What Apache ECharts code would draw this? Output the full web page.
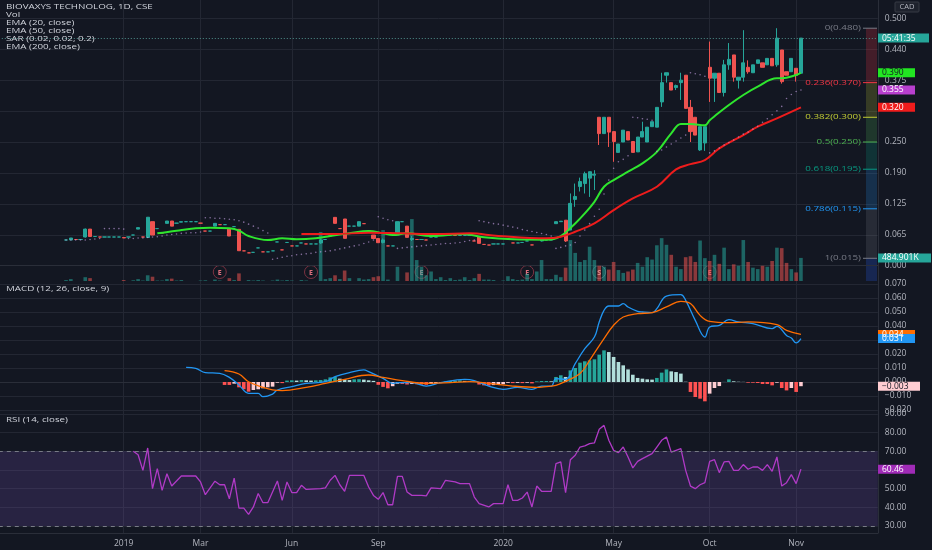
<!DOCTYPE html>
<html><head><meta charset="utf-8">
<script src="https://cdn.jsdelivr.net/npm/echarts/dist/echarts.min.js"></script>
<style>html,body{margin:0;padding:0;background:#131722;}#c{width:932px;height:550px;}</style>
</head><body><div id="c"></div>
<script>
// ---------- DATA ----------
const PAD = 14, SLOTS = 184;            // empty bar slots left of the first bar / total slots on the time axis
const tickLabels = [[12,'2019'],[28,'Mar'],[47,'Jun'],[65,'Sep'],[91,'2020'],[114,'May'],[134,'Oct'],[152,'Nov']];
// [open, close, low, high]
const candles = [
[.052,.052,.052,.052],[.052,.056,.052,.056],[.053,.053,.053,.053],[.053,.053,.053,.053],[.058,.074,.057,.075],
[.074,.059,.059,.074],[.059,.059,.059,.059],[.058,.058,.058,.058],[.058,.058,.058,.058],[.058,.058,.058,.058],
[.058,.058,.058,.058],[.058,.058,.058,.058],[.057,.056,.056,.057],[.058,.058,.058,.058],[.062,.062,.062,.062],
[.074,.077,.074,.077],[.058,.058,.058,.058],[.057,.098,.057,.098],[.089,.062,.062,.089],[.075,.075,.075,.075],
[.066,.066,.066,.066],[.0856,.0903,.0856,.0903],[.0903,.080,.080,.0903],[.086,.086,.086,.086],[.088,.089,.088,.089],
[.089,.089,.089,.089],[.089,.089,.089,.089],[.089,.089,.089,.089],[.086,.086,.086,.086],[.070,.070,.070,.070],
[.070,.070,.070,.070],[.080,.0856,.080,.0856],[.083,.083,.083,.083],[.083,.083,.083,.083],[.074,.060,.060,.074],
[.079,.079,.079,.079],[.0735,.0303,.0303,.0735],[.030,.030,.030,.030],[.026,.026,.026,.026],[.027,.027,.027,.027],
[.036,.036,.036,.036],[.028,.028,.028,.028],[.028,.028,.028,.028],[.030,.030,.030,.030],[.048,.048,.048,.048],
[.032,.032,.032,.032],[.047,.047,.047,.047],[.040,.040,.040,.040],[.040,.040,.040,.040],[.046,.046,.046,.046],
[.044,.044,.044,.044],[.044,.044,.044,.044],[.044,.044,.044,.044],[.046,.052,.044,.055],[.053,.053,.053,.053],
[.060,.060,.060,.060],[.0977,.0856,.0856,.0977],[.075,.075,.075,.075],[.0944,.0553,.0553,.0944],[.080,.080,.080,.080],
[.080,.080,.080,.080],[.080,.089,.080,.089],[.085,.085,.085,.085],[.070,.070,.070,.070],[.062,.055,.055,.062],
[.055,.0465,.0465,.055],[.047,.052,.045,.055],[.040,.040,.040,.040],[.040,.040,.040,.040],[.062,.089,.062,.089],
[.089,.089,.089,.089],[.080,.0573,.0573,.080],[.053,.055,.050,.060],[.053,.053,.053,.053],[.053,.053,.053,.053],
[.052,.052,.052,.052],[.058,.058,.058,.058],[.058,.058,.058,.058],[.062,.062,.062,.062],[.062,.062,.062,.062],
[.062,.062,.062,.062],[.061,.061,.061,.061],[.061,.061,.061,.061],[.061,.061,.061,.061],[.061,.061,.061,.061],
[.050,.050,.050,.050],[.0587,.0452,.0452,.0587],[.043,.043,.043,.043],[.0418,.0418,.0418,.0418],[.044,.044,.044,.044],
[.044,.044,.044,.044],[.044,.044,.044,.044],[.055,.055,.055,.055],[.046,.046,.046,.046],[.046,.046,.046,.046],
[.047,.047,.047,.047],[.050,.050,.050,.050],[.042,.042,.042,.042],[.054,.054,.054,.054],[.050,.052,.049,.054],
[.052,.052,.052,.052],[.052,.052,.052,.052],[.085,.089,.085,.089],[.089,.090,.089,.090],[.092,.050,.048,.092],
[.072,.126,.072,.146],[.134,.140,.119,.166],[.160,.170,.150,.178],[.166,.186,.146,.190],[.177,.190,.139,.190],
[.183,.185,.153,.193],[.300,.267,.244,.300],[.267,.300,.267,.300],[.300,.270,.240,.300],[.271,.251,.210,.271],
[.229,.246,.229,.246],[.250,.274,.250,.274],[.271,.254,.254,.271],[.251,.229,.229,.251],[.230,.260,.230,.260],
[.260,.271,.260,.291],[.250,.280,.250,.280],[.281,.291,.281,.291],[.280,.320,.280,.320],[.331,.370,.321,.390],
[.385,.390,.370,.390],[.370,.355,.355,.370],[.360,.364,.355,.366],[.370,.375,.335,.390],[.385,.318,.318,.385],
[.320,.271,.250,.335],[.300,.264,.264,.300],[.234,.281,.232,.281],[.248,.281,.232,.281],[.401,.379,.331,.453],
[.379,.389,.331,.389],[.389,.350,.350,.389],[.350,.406,.342,.416],[.406,.417,.396,.450],[.426,.381,.372,.426],
[.375,.381,.358,.381],[.381,.410,.372,.476],[.401,.392,.388,.415],[.390,.406,.390,.406],[.409,.416,.409,.416],
[.410,.401,.401,.410],[.406,.419,.406,.419],[.419,.404,.404,.419],[.406,.460,.402,.480],[.436,.372,.368,.436],
[.392,.385,.385,.392],[.392,.419,.392,.419],[.399,.385,.372,.399],[.389,.460,.389,.460]
];
// volume, thousands
const volume = [20,40,0,0,80,60,0,0,0,0, 0,0,20,0,15,40,10,120,90,10, 10,40,50,10,20,0,0,0,10,15,
 0,30,10,0,60,20,160,0,20,10, 20,10,0,10,30,10,20,10,0,20, 10,0,0,1030,40,60,120,40,220,60,
 0,60,30,40,80,100,1070,30,0,300, 0,180,1300,440,300,120,200,40,80,20, 60,20,30,80,20,60,150,30,30,20,
 0,10,100,40,20,30,150,40,200,440, 40,40,130,80,280,860,590,400,440,720, 440,320,300,240,400,230,170,200,240,380,
 300,500,450,750,900,760,550,300,250,500, 520,400,850,480,420,550,360,700,250,350,
 320,860,400,280,250,320,300,420,700,690, 380,250,180,484.901];
const ema20 = [[19,.0654],[23,.0708],[27,.0755],[30,.0768],[34,.0755],[36,.071],[38,.060],[42,.0519],[45,.0553],[48,.0533],
 [52,.0553],[55,.060],[59,.0654],[63,.0701],[66,.0654],[68,.062],[71,.0654],[76,.060],[83,.064],[87,.0573],[93,.0533],
 [100,.0525],[103,.060],[106,.0855],[108,.1057],[110,.129],[112,.1596],[114,.173],[117,.19],[120,.2068],[123,.23],
 [126,.2675],[128,.2863],[130,.2863],[133,.284],[134,.294],[135,.302],[138,.3247],[141,.345],[144,.362],[148,.3787],
 [149,.3787],[152,.3854],[153,.390]];
const ema50 = [[49,.064],[56,.064],[63,.0667],[70,.0654],[77,.064],[84,.0654],[90,.060],[100,.0553],[103,.0586],[106,.0686],
 [110,.0855],[114,.1124],[118,.136],[123,.1596],[127,.1946],[130,.2054],[133,.2135],[136,.237],[141,.264],[144,.281],
 [148,.2978],[153,.320]];
const sar = [.052,.052,.052,.052,.052,.053,.054,.055, .075,.075,.075,.075,.074,
 .055,.055,.056,.056,.057,.058,.0586,.060,.062,.063,.064,.0654,.066,.0665,.0667,.068,
 .097,.097,.096,.096,.095,.094,.093,.091,.088,.084,.080,.076,.071,.066,
 .013,.015,.017,.019,.020,.022,.023,.024,.025,.027,.028,.029,.030,.032,.034,.036,.038,.040,.042,.045,.048,.052,
 .099,.096,.093,.091,
 .035,.036,.037,.038,.039,.040,.041,.042,.043,.044,.045,.045,.046,.047,.049,.051,.052,
 .091,.089,.087,.085,.084,.082,.080,.078,.076,.073,.071,.069,.067,.065,.063,.060,
 .035,.037,.040,.042,.047,.060,.072,.085,.100,.114,.145,.173,.197,.210,.215,.222,
 .300,.299,.297,.296,.294,
 .231,.234,.240,.246,.252,.258,.264,
 .390,.388,.386,.383,
 .228,.232,.238,.244,.249,.254,.260,.266,.270,.276,.282,.290,.297,.305,.313,.322,.338,.346,.352,.355];
const macd = [[25,.0105],[27,.0098],[29,.0067],[32,.0062],[34,.0033],[36,-.0021],[38,-.0081],[40,-.0081],[41,-.0105],[43,-.0086],
 [44,-.0057],[47,-.0033],[50,-.001],[54,.0002],[56,.0038],[59,.0067],[62,.0086],[63,.0074],[66,.0026],[68,-.001],[69,-.0005],
 [72,-.0005],[75,-.0029],[78,-.0005],[83,.0019],[85,.001],[88,-.0029],[91,-.0052],[94,-.0038],[97,-.0052],[99,-.0029],
 [101,-.0029],[102,.0024],[104,.0019],[106,.0131],[108,.0238],[110,.0321],[111,.0429],[112,.0512],[113,.0543],[115,.0543],
 [116,.056],[117,.0536],[119,.0505],[120,.05],[122,.0495],[123,.0524],[125,.0614],[128,.0624],[129,.0583],[131,.044],
 [133,.0321],[134,.0393],[136,.0405],[138,.0445],[140,.0429],[143,.0417],[147,.0381],[148,.0398],[150,.0333],[151,.0314],
 [152,.0279],[153,.031]];
const signal = [[33,.0081],[36,.0057],[38,.0002],[41,-.0038],[43,-.0057],[45,-.0062],[50,-.0038],[54,-.001],[58,.0019],[63,.005],
 [66,.0033],[70,.001],[75,-.001],[80,-.0005],[84,.0002],[88,-.001],[93,-.0029],[98,-.0038],[99,-.0036],[102,-.0024],[104,.0005],
 [107,.006],[109,.0155],[112,.031],[114,.0405],[116,.0464],[119,.0488],[122,.0495],[125,.0536],[128,.0576],[130,.056],
 [132,.0476],[134,.0433],[138,.0424],[142,.0429],[148,.041],[150,.0369],[153,.034]];
const histStart = 33;
const hist = [-.0021,-.0021,-.0012,-.0038,-.0052,-.0069,-.0057,-.0052,-.0045,-.0038,
 -.0033,-.0005,-.0008,.001,.0012,.001,.0014,.0012,.001,.0012,
 .0014,.0019,.0033,.0036,.0024,.0019,.0014,.0019,.002,.0017,
 .0012,.0008,-.002,-.0035,-.0045,-.003,-.0012,-.0014,-.0018,-.0014,
 -.0016,-.0018,-.002,-.0014,-.0012,-.0008,.0004,.0008,.001,.0012,
 .0008,.0006,.0002,-.0018,-.0024,-.0026,-.0022,-.002,-.0016,-.0006,
 -.0008,-.0006,-.0008,-.0005,-.001,.0004,.0007,.0007,.0005,.0036,
 .0048,.0036,.0083,.010,.0138,.0148,.0155,.0162,.0195,.0226,
 .0214,.0179,.0143,.0119,.009,.0052,.0029,.0024,.0019,.0017,
 .0029,.0067,.009,.0076,.0071,.006,.0002,-.0071,-.0107,-.0119,
 -.0138,-.0083,-.0043,-.0029,.0001,.0019,.0005,.0002,.0001,-.0005,
 -.0005,-.0007,-.0014,-.0014,-.0024,-.0005,-.0043,-.006,-.0043,-.0071,-.003];
const rsi = [[14,70],[15,68.2],[16,59.8],[17,71.8],[18,50],[19,60.7],[20,49.1],[21,58],[22,51.4],[24,56.8],[27,56.8],[28,53.6],
 [29,46.8],[31,54],[32,52.1],[33,52.1],[34,44.6],[35,55.7],[36,39.6],[37,39.6],[38,36.2],[39,40.2],[40,47.4],[41,42.5],
 [42,42.5],[44,54.1],[45,43.7],[46,53.6],[47,47.9],[48,47.9],[49,51.8],[50,49.6],[53,50],[54,50.4],[55,54.5],[56,57.1],
 [57,52.1],[58,48.6],[59,57.1],[62,57.1],[63,50.9],[64,46.4],[65,44.3],[66,47.9],[67,41.4],[68,41.4],[69,56.6],[70,56.6],
 [71,48.2],[72,46.4],[74,46.4],[75,46.1],[76,50.4],[78,50],[79,54.5],[81,53.6],[82,52.7],[84,52.7],[85,45.5],[86,42],
 [88,40.2],[89,42],[91,42],[92,52.1],[93,43.7],[94,43.7],[95,45],[96,48.2],[97,40.2],[98,51.4],[99,48.6],[101,48.6],
 [102,63.4],[103,64.3],[104,47.9],[105,65.5],[106,67.9],[107,72.3],[108,72.9],[109,74.1],[110,74.5],[111,81.8],[112,83.9],
 [113,75.9],[114,70.5],[115,69.3],[116,72.3],[117,67],[118,61.1],[119,64.6],[120,66.1],[122,68.75],[123,72.3],[124,75.9],
 [125,77.7],[126,69.6],[127,70.5],[128,71.4],[129,59.8],[130,51.4],[131,50],[132,52.1],[133,53.2],[134,64.6],[135,65.5],
 [136,58.6],[137,64.3],[138,64.6],[139,59.8],[140,59.8],[141,62.9],[142,60.4],[143,61.6],[144,61.6],[145,59.8],[146,62.9],
 [147,59.3],[148,67],[149,51.4],[150,53.2],[151,57.5],[152,52.7],[153,60.46]];
const priceTicks = [0,.0625,.125,.1875,.25,.3125,.375,.4375,.5];
const priceTickLabels = ['0.000','0.065','0.125','0.190','0.250','','0.375','0.440','0.500'];
const macdTicks = [-.02,-.01,0,.01,.02,.03,.04,.05,.06,.07];
const rsiTicks = [30,40,50,60,70,80,90];
const fibLevels = [[0,.480],[.236,.370],[.382,.300],[.5,.250],[.618,.195],[.786,.115],[1,.015]];
const fibColors = ['#787b86','#f23645','#c2cc34','#4caf50','#089981','#2196f3','#787b86'];
const events = [[32,'E'],[51,'E'],[74,'E'],[96,'E'],[111,'S'],[134,'E']];
const legendMain = ['BIOVAXYS TECHNOLOG, 1D, CSE','Vol','EMA (20, close)','EMA (50, close)','SAR (0.02, 0.02, 0.2)','EMA (200, close)'];
const countdown = '05:41:35';

// ---------- BUILD ----------
const UP='#26a69a', DN='#ef5350';
const cats = Array.from({length:SLOTS},(_,s)=>'s'+s);
const labelAt = {}; tickLabels.forEach(([i,t])=>{labelAt[i+PAD]=t;});
const isTick = i => labelAt[i] !== undefined;
const sh = arr => arr.map(([i,v])=>[i+PAD,v]);
const FONT = 'Open Sans';
const GRID = '#232733';
const L = -1.2, R = 54.2;
function xAx(g, label, line){
  return {type:'category', gridIndex:g, data:cats, boundaryGap:false, show: g!==1,
    axisTick:{show:false},
    axisLine:{show:line, lineStyle:{color:'#2a2e39'}},
    axisLabel:{show:label, interval:(i)=>isTick(i), formatter:(v,i)=>labelAt[i]||'', color:'#b2b5be', fontSize:8.5, fontFamily:FONT, margin:6},
    splitLine:{show:true, interval:(i)=>isTick(i), lineStyle:{color:GRID, width:1}}};
}
function yAx(g, min, max, ticks, labelVals, fmt){
  return {type:'value', gridIndex:g, position:'right', min:min, max:max,
    axisLine:{show:true, lineStyle:{color:'#2a2e39'}},
    axisTick:{show:false, customValues:ticks},
    axisLabel:{customValues:labelVals, formatter:fmt, color:'#b2b5be', fontSize:8.5, fontFamily:FONT, margin:7},
    splitLine:{show:true, lineStyle:{color:GRID, width:1}}};
}
const neg = s => s.replace('-', '\u2212');
const candleData = candles.map((c,i)=>[i+PAD, c[0], c[1], c[2], c[3]]);
const volData = volume.map((v,i)=>({value:[i+PAD, v], itemStyle:{color: candles[i][1] >= candles[i][0] ? 'rgba(38,166,154,0.55)' : 'rgba(239,83,80,0.55)'}}));
const histData = hist.map((v,k)=>{
  const prev = k>0 ? hist[k-1] : 0;
  let col;
  if (v >= 0) col = v >= prev ? '#26a69a' : '#b2dfdb';
  else col = v <= prev ? '#ff5252' : '#ffcdd2';
  return {value:[histStart+k+PAD, v], itemStyle:{color:col}};
});
const sarData = sar.map((v,i)=>[i+PAD, v]);
const lastClose = candles[candles.length-1][1];

const chart = echarts.init(document.getElementById('c'), null, {width:932, height:550});
const option = {
  backgroundColor:'#131722',
  animation:false,
  grid:[
    {left:L, right:R, top:0, height:281, outerBoundsMode:'none'},
    {left:L, right:R, top:181, height:100, outerBoundsMode:'none'},
    {left:L, right:R, top:281, height:130, outerBoundsMode:'none'},
    {left:L, right:R, top:411, height:122, outerBoundsMode:'none'}
  ],
  xAxis:[xAx(0,false,true), xAx(1,false,false), xAx(2,false,true), xAx(3,true,true)],
  yAxis:[
    yAx(0, -0.0309, 0.537, priceTicks, priceTicks.filter((t,k)=>priceTickLabels[k]!==''), v=>{const k=priceTicks.findIndex(t=>Math.abs(t-v)<1e-9); return k<0?'':priceTickLabels[k];}),
    {type:'value', gridIndex:1, min:0, max:2100, show:false, splitLine:{show:false}},
    yAx(2, -0.02071, 0.07214, macdTicks, macdTicks, v=>neg(v.toFixed(3))),
    yAx(3, 26.26, 91.6, rsiTicks, rsiTicks, v=>v.toFixed(2))
  ],
  series:[
    {type:'bar', name:'Vol', xAxisIndex:1, yAxisIndex:1, data:volData, barWidth:3.6, z:1, silent:true},
    {type:'candlestick', xAxisIndex:0, yAxisIndex:0, data:candleData, encode:{x:0, y:[1,2,3,4]}, barWidth:3.6, z:3,
      itemStyle:{color:UP, color0:DN, borderColor:UP, borderColor0:DN, borderWidth:1},
      markLine:{silent:true, symbol:['none','none'], label:{show:false}, lineStyle:{type:[1,2], color:'#4f8f8a', width:1},
        data:[{yAxis:lastClose}]}},
    {type:'line', xAxisIndex:0, yAxisIndex:0, data:sh(ema20), showSymbol:false, smooth:0.4, lineStyle:{color:'#2ee62e', width:2}, z:4},
    {type:'line', xAxisIndex:0, yAxisIndex:0, data:sh(ema50), showSymbol:false, smooth:0.4, lineStyle:{color:'#ee1c1c', width:2}, z:4},
    {type:'scatter', xAxisIndex:0, yAxisIndex:0, data:sarData, symbol:'circle', symbolSize:1.6, itemStyle:{color:'rgba(196,160,226,0.8)'}, z:5, silent:true},
    {type:'bar', xAxisIndex:2, yAxisIndex:2, data:histData, barWidth:3.6, z:2},
    {type:'line', xAxisIndex:2, yAxisIndex:2, data:sh(macd), showSymbol:false, smooth:0.4, lineStyle:{color:'#2196f3', width:1.3}, z:4},
    {type:'line', xAxisIndex:2, yAxisIndex:2, data:sh(signal), showSymbol:false, smooth:0.4, lineStyle:{color:'#ff6d00', width:1.3}, z:4},
    {type:'line', xAxisIndex:3, yAxisIndex:3, data:sh(rsi), showSymbol:false, lineStyle:{color:'#b03ac6', width:1.3}, z:4,
      markArea:{silent:true, itemStyle:{color:'rgba(126,87,194,0.2)'}, data:[[{yAxis:30},{yAxis:70}]]},
      markLine:{silent:true, symbol:['none','none'], label:{show:false}, lineStyle:{type:[4,4], color:'#787b86', width:1},
        data:[{yAxis:70},{yAxis:30}]}}
  ]
};
chart.setOption(option);

// ---------- overlays positioned through the chart's own scales ----------
const px = slot => chart.convertToPixel({xAxisIndex:0}, cats[slot]);
const py = (k, v) => chart.convertToPixel({yAxisIndex:k}, v);
const AX = 878;
const SX = 1.4;   // the reference text is drawn wide
const g = [];
function label(x, y, t, fill, align){
  g.push({type:'text', x:x, y:y, scaleX:SX, style:{x:0, y:0, text:t, fill:fill, font:'7px "Open Sans"', align:align||'left', verticalAlign:'middle'}, z:12});
}
// legends
legendMain.forEach((t,k)=>label(6, 7+k*8, t, '#d1d4dc'));
label(6, 289, 'MACD (12, 26, close, 9)', '#d1d4dc');
label(6, 420, 'RSI (14, close)', '#d1d4dc');
// fib retracement
const fy = fibLevels.map(([r,v])=>py(0,v));
const bandColors = ['rgba(242,54,69,0.22)','rgba(194,204,52,0.2)','rgba(76,175,80,0.22)','rgba(8,153,129,0.22)','rgba(33,150,243,0.2)','rgba(120,123,134,0.2)'];
for (let k=0;k<fy.length-1;k++) g.push({type:'rect', shape:{x:866, y:fy[k], width:11, height:fy[k+1]-fy[k]}, style:{fill:bandColors[k]}, silent:true});
g.push({type:'rect', shape:{x:866, y:fy[fy.length-1], width:11, height:281-fy[fy.length-1]}, style:{fill:'rgba(41,98,255,0.22)'}, silent:true});
fibLevels.forEach(([r,v],k)=>{
  g.push({type:'line', shape:{x1:863, y1:fy[k], x2:877, y2:fy[k]}, style:{stroke:fibColors[k], lineWidth:1}});
  label(861, fy[k], r+'('+v.toFixed(3)+')', fibColors[k], 'right');
});
// event markers
events.forEach(([i,t])=>{
  const x = px(i+PAD), isE = t==='E';
  g.push({type:'circle', shape:{cx:x, cy:272, r:6.5}, style:{fill:'rgba(19,23,34,0.6)', stroke:isE?'#7d3242':'#5a5e6a', lineWidth:1}});
  g.push({type:'text', x:x, y:272.5, style:{text:t, fill:isE?'#e0707f':'#c8cad0', font:'bold 7px "Open Sans"', align:'center', verticalAlign:'middle'}});
});
// value boxes on the right scale
function box(k, v, text, bg, fg, w){
  const y = py(k, v);
  g.push({type:'rect', shape:{x:AX, y:y-4.5, width:w, height:9}, style:{fill:bg}, z:10});
  g.push({type:'text', x:AX+4, y:y, style:{text:text, fill:fg, font:'8.5px "Open Sans"', verticalAlign:'middle'}, z:11});
}
const lastEma20 = ema20[ema20.length-1][1], lastEma50 = ema50[ema50.length-1][1], lastSar = sar[sar.length-1];
box(0, lastClose, countdown, '#26a69a', '#ffffff', 51);
box(0, lastEma20, lastEma20.toFixed(3), '#22e622', '#131722', 37);
box(0, lastSar, lastSar.toFixed(3), '#b83fce', '#ffffff', 37);
box(0, lastEma50, lastEma50.toFixed(3), '#f01c1c', '#ffffff', 37);
box(1, volume[volume.length-1], volume[volume.length-1].toFixed(3)+'K', '#26a69a', '#ffffff', 53);
box(2, signal[signal.length-1][1], signal[signal.length-1][1].toFixed(3), '#ff6d00', '#ffffff', 37);
box(2, macd[macd.length-1][1], macd[macd.length-1][1].toFixed(3), '#2196f3', '#ffffff', 37);
box(2, hist[hist.length-1], neg(hist[hist.length-1].toFixed(3)), '#ffcdd2', '#131722', 42);
box(3, rsi[rsi.length-1][1], rsi[rsi.length-1][1].toFixed(2), '#a02bb7', '#ffffff', 37);
// currency tag
g.push({type:'rect', shape:{x:895, y:2, width:24, height:10, r:1}, style:{fill:'#1e222d', stroke:'#363a45', lineWidth:1}});
g.push({type:'text', x:907, y:7, style:{text:'CAD', fill:'#b2b5be', font:'7.5px "Open Sans"', align:'center', verticalAlign:'middle'}});
chart.setOption({graphic:g});
</script>
</body></html>
